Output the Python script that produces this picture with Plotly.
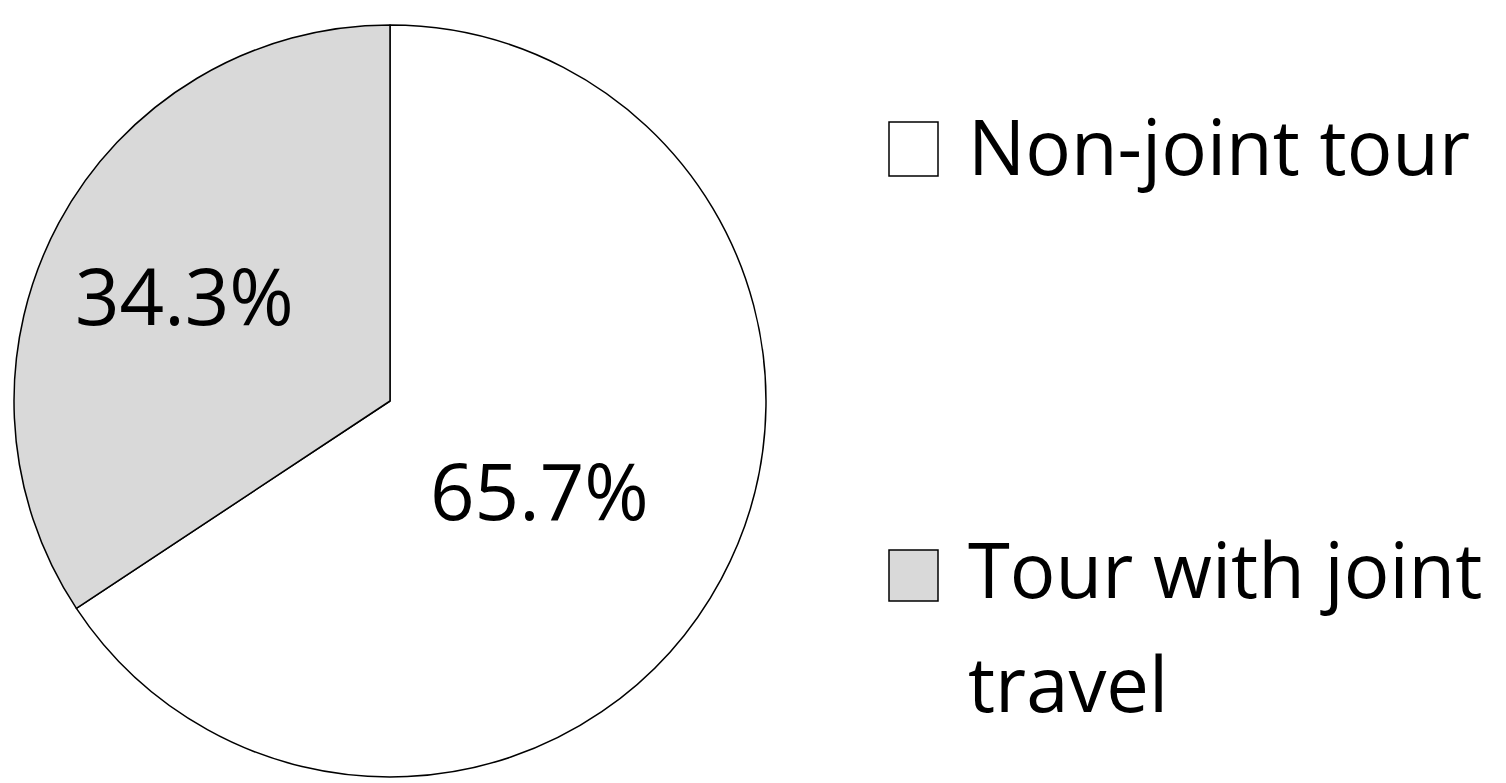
import math
import textwrap
import plotly.graph_objects as go

categories = ["Non-joint tour", "Tour with joint travel"]
values = [65.7, 34.3]
colors = ["#ffffff", "#d9d9d9"]

W, H = 1506, 783
FONT = "Open Sans, Lato, sans-serif"

# pie geometry in pixels (converted to paper domain)
cx, cy, r = 382, 393, 376
dom_x = [(cx - r) / W, (cx + r) / W]
dom_y = [(H - cy - r) / H, (H - cy + r) / H]

fig = go.Figure(
    go.Pie(
        labels=categories,
        values=values,
        sort=False,
        direction="clockwise",
        rotation=0,
        marker=dict(colors=colors, line=dict(color="#000000", width=1.5)),
        textinfo="none",
        domain=dict(x=dom_x, y=dom_y),
        showlegend=False,
        hoverinfo="label+percent",
    )
)

annotations = []
shapes = []

# percentage labels placed along each slice's bisector (angles from the values)
label_radius = [0.45, 0.62]
label_drop = [9, 4]
total = sum(values)
start = 0.0
for v, frac, drop in zip(values, label_radius, label_drop):
    mid = (start + v / 2) / total * 2 * math.pi  # clockwise from 12 o'clock
    start += v
    px = cx + math.sin(mid) * r * frac
    py = cy - math.cos(mid) * r * frac + drop
    annotations.append(dict(
        xref="paper", yref="paper", x=px / W, y=1 - py / H,
        xanchor="center", yanchor="middle", showarrow=False,
        text=f"{v / total * 100:.1f}%",
        font=dict(family=FONT, size=78, color="#000000"),
    ))

# custom legend (swatches + labels), built from the category lists
swatch_rows = [(114, 168), (542, 593)]
text_first_line = [137, 560]
line_gap = 114
for (y0, y1), ty, cat, col in zip(swatch_rows, text_first_line, categories, colors):
    shapes.append(dict(
        type="rect", xref="paper", yref="paper",
        x0=881 / W, x1=930 / W, y0=1 - y1 / H, y1=1 - y0 / H,
        fillcolor=col, line=dict(color="#000000", width=1.5),
    ))
    for i, line in enumerate(textwrap.wrap(cat, 15)):
        annotations.append(dict(
            xref="paper", yref="paper", x=958 / W, y=1 - (ty + i * line_gap) / H,
            xanchor="left", yanchor="middle", showarrow=False, align="left",
            text=line,
            font=dict(family=FONT, size=76, color="#000000"),
        ))

fig.update_layout(
    width=W, height=H,
    margin=dict(l=0, r=0, t=0, b=0),
    paper_bgcolor="#ffffff",
    plot_bgcolor="#ffffff",
    shapes=shapes,
    annotations=annotations,
)

fig.write_html("out.html")
